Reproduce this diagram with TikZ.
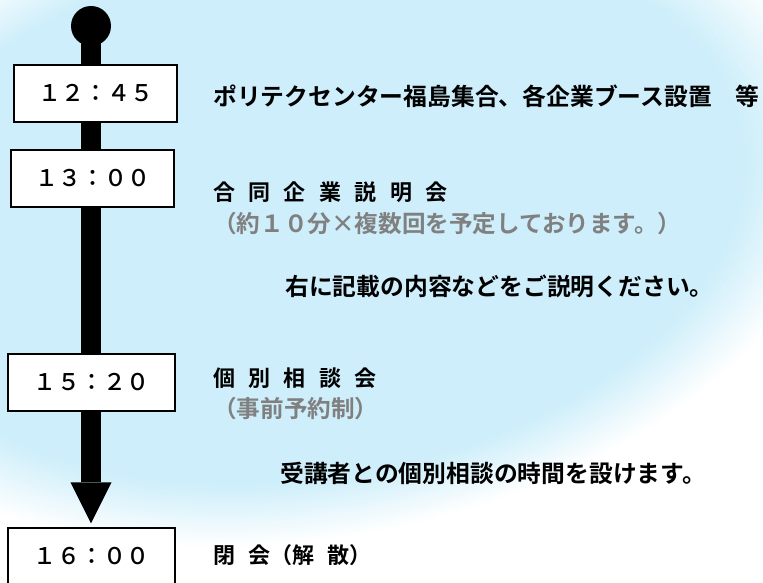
\documentclass[tikz,border=0pt]{standalone}
\usepackage{fontspec}
\newfontfamily\jp{Noto Sans CJK JP Medium}
\newfontfamily\jpb{Noto Sans CJK JP Bold}
\usetikzlibrary{arrows.meta,backgrounds}
\definecolor{glowblue}{RGB}{205,238,250}
\definecolor{notegray}{RGB}{128,128,128}
\newcommand\myspacedfont{\jpb\fontsize{22}{22}\selectfont\spaceskip=13.4pt plus 0pt minus 0pt\relax}
\tikzset{
  tbox/.style={draw=black, line width=1.5pt, fill=white, minimum height=57pt, inner sep=0pt, font=\jp\fontsize{23}{23}\selectfont},
  body/.style={anchor=west, inner sep=0pt, font=\jpb\fontsize{23.8}{24}\selectfont},
  spaced/.style={anchor=west, inner sep=0pt, font=\myspacedfont},
  note/.style={anchor=west, inner sep=0pt, text=notegray, font=\jpb\fontsize{23.6}{24}\selectfont},
  flow/.style={line width=20pt, -{Triangle[length=41pt,width=41pt,line width=0pt]}}
}
\begin{document}
\begin{tikzpicture}[x=1pt,y=-1pt]
\useasboundingbox (0,0) rectangle (763,583);
\begin{scope}
\clip (0,0) rectangle (763,583);
% time boxes
\node[circle, fill=black, minimum size=40pt, inner sep=0pt] (dot) at (91,26) {};
\node[tbox, minimum width=163pt] (t1245) at (95.5,93.5) {１２：４５};
\node[tbox, minimum width=163pt] (t1300) at (92.5,178.5) {１３：００};
\node[tbox, minimum width=167pt] (t1520) at (91.5,382.5) {１５：２０};
\node[tbox, minimum width=167pt] (t1600) at (91.5,556.5) {１６：００};
% texts
\node[body] (l1) at (213,96) {ポリテクセンター福島集合、各企業ブース設置　等};
\node[spaced] (l2) at (213,192) {合 同 企 業 説 明 会};
\node[note] (l3) at (213,224) {（約１０分×複数回を予定しております。）};
\node[body] (l4) at (285,286) {右に記載の内容などをご説明ください。};
\node[spaced] (l5) at (213,378) {個 別 相 談 会};
\node[note] (l6) at (213,409) {（事前予約制）};
\node[body] (l7) at (280,473) {受講者との個別相談の時間を設けます。};
\node[spaced] (l8) at (213,555) {閉 会（解 散）};
\begin{scope}[on background layer]
  \fill[white] (0,0) rectangle (763,583);
  \begin{scope}[shift={(310,210)}, rotate=10]
  \foreach \i in {0,...,30} {
    \pgfmathsetmacro\sc{1.08-0.2*\i/30}
    \pgfmathsetmacro\pc{100*\i/30}
    \fill[glowblue!\pc!white] (0,0) ellipse [x radius=500*\sc, y radius=305*\sc];
  }
  \end{scope}
  \draw[flow, shorten >=4pt] (dot.center) -- (dot.center |- t1600.north);
\end{scope}
\end{scope}
\end{tikzpicture}
\end{document}
